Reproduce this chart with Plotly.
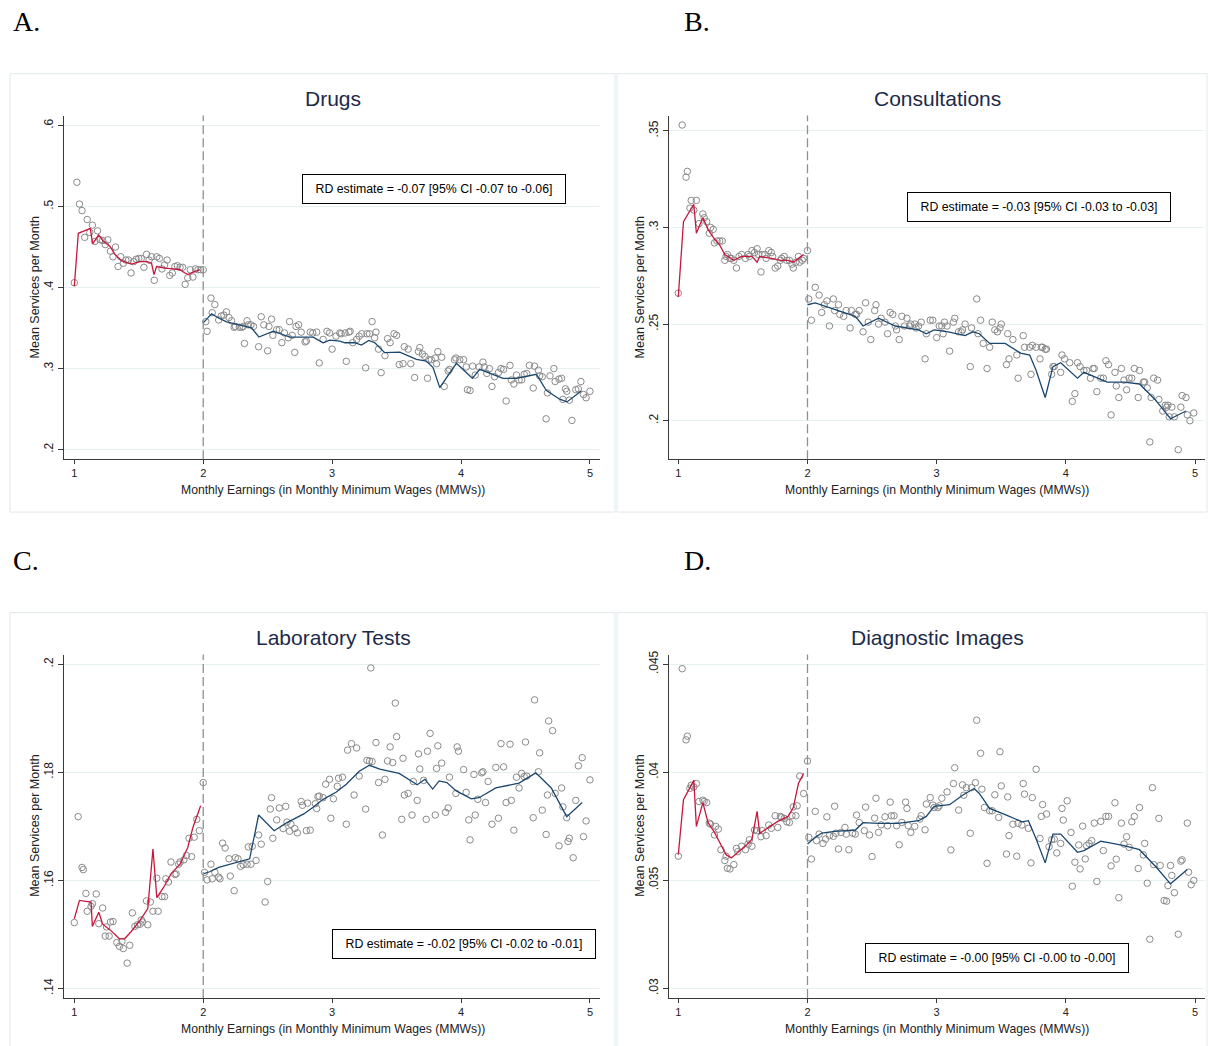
import plotly.graph_objects as go

W, H = 1209, 1046

# ----------------------------- DATA -----------------------------
TITLES = ["Drugs", "Consultations", "Laboratory Tests", "Diagnostic Images"]
LETTERS = ["A.", "B.", "C.", "D."]
RD_TEXT = [
    "RD estimate = -0.07 [95% CI -0.07 to -0.06]",
    "RD estimate = -0.03 [95% CI -0.03 to -0.03]",
    "RD estimate = -0.02 [95% CI -0.02 to -0.01]",
    "RD estimate = -0.00 [95% CI -0.00 to -0.00]",
]
X_TITLE = "Monthly Earnings (in Monthly Minimum Wages (MMWs))"
Y_TITLE = "Mean Services per Month"
CUTOFF = 2
X_TICKS = [1, 2, 3, 4, 5]
X_TICKTEXT = ["1", "2", "3", "4", "5"]
A_YTICKS = [0.2, 0.3, 0.4, 0.5, 0.6]
A_YTEXT = [".2", ".3", ".4", ".5", ".6"]
B_YTICKS = [0.2, 0.25, 0.3, 0.35]
B_YTEXT = [".2", ".25", ".3", ".35"]
C_YTICKS = [0.14, 0.16, 0.18, 0.2]
C_YTEXT = [".14", ".16", ".18", ".2"]
D_YTICKS = [0.03, 0.035, 0.04, 0.045]
D_YTEXT = [".03", ".035", ".04", ".045"]

# ---- Panel A: Drugs ----
A_L_X = [1.00, 1.02, 1.04, 1.06, 1.08, 1.10, 1.12, 1.14, 1.16, 1.18,
         1.20, 1.22, 1.24, 1.26, 1.28, 1.30, 1.32, 1.34, 1.36, 1.38,
         1.40, 1.42, 1.44, 1.46, 1.48, 1.50, 1.52, 1.54, 1.56, 1.58,
         1.60, 1.62, 1.64, 1.66, 1.68, 1.70, 1.72, 1.74, 1.76, 1.78,
         1.80, 1.82, 1.84, 1.86, 1.88, 1.90, 1.92, 1.94, 1.96, 1.98, 2.00]
A_L_Y = [.406, .530, .503, .495, .462, .484, .468, .477, .457, .470,
         .459, .458, .453, .459, .445, .438, .450, .426, .438, .430,
         .434, .434, .418, .432, .435, .436, .436, .425, .441, .434,
         .438, .409, .438, .436, .423, .428, .434, .415, .418, .426,
         .427, .425, .425, .404, .412, .422, .413, .423, .422, .422, .422]
A_R_X = [2.02, 2.03, 2.06, 2.07, 2.09, 2.12, 2.14, 2.16, 2.18, 2.20,
         2.22, 2.24, 2.25, 2.28, 2.30, 2.31, 2.32, 2.34, 2.35, 2.37,
         2.39, 2.43, 2.45, 2.47, 2.50, 2.51, 2.53, 2.54, 2.57, 2.59,
         2.61, 2.63, 2.66, 2.67, 2.69, 2.71, 2.72, 2.74, 2.76, 2.79,
         2.80, 2.83, 2.85, 2.88, 2.90, 2.93, 2.96, 2.98, 3.00, 3.03,
         3.06, 3.07, 3.10, 3.11, 3.13, 3.14, 3.16, 3.19, 3.21, 3.23,
         3.26, 3.27, 3.29, 3.31, 3.33, 3.34, 3.36, 3.38, 3.41, 3.43,
         3.45, 3.48, 3.50, 3.52, 3.55, 3.56, 3.59, 3.61, 3.64, 3.67,
         3.68, 3.70, 3.72, 3.74, 3.75, 3.77, 3.80, 3.81, 3.82, 3.85,
         3.87, 3.90, 3.91, 3.95, 3.96, 3.99, 4.02, 4.04, 4.05, 4.07,
         4.09, 4.11, 4.14, 4.17, 4.18, 4.20, 4.22, 4.24, 4.26, 4.29,
         4.31, 4.33, 4.35, 4.38, 4.39, 4.41, 4.43, 4.45, 4.47, 4.49,
         4.51, 4.53, 4.56, 4.57, 4.60, 4.61, 4.63, 4.66, 4.67, 4.69,
         4.72, 4.73, 4.76, 4.78, 4.79, 4.81, 4.82, 4.84, 4.86, 4.89,
         4.91, 4.93, 4.95, 4.97, 5.00]
A_R_Y = [.358, .346, .387, .369, .379, .360, .365, .366, .370, .363,
         .359, .351, .352, .351, .351, .352, .331, .359, .354, .354,
         .352, .327, .364, .354, .322, .352, .361, .341, .348, .348,
         .332, .344, .338, .358, .341, .320, .352, .354, .345, .333,
         .334, .345, .344, .345, .307, .336, .346, .344, .324, .340,
         .344, .343, .344, .309, .345, .346, .332, .336, .340, .343,
         .301, .343, .343, .358, .338, .345, .324, .295, .316, .337,
         .332, .343, .341, .305, .306, .327, .324, .306, .289, .321,
         .326, .318, .315, .288, .311, .311, .313, .306, .321, .314,
         .278, .297, .299, .311, .313, .311, .311, .302, .274, .273,
         .303, .292, .302, .308, .302, .294, .300, .278, .290, .295,
         .300, .299, .260, .304, .286, .281, .292, .286, .286, .293,
         .294, .304, .276, .303, .298, .291, .290, .238, .270, .291,
         .300, .284, .287, .288, .262, .275, .272, .261, .236, .274,
         .275, .284, .268, .264, .272]
A_FL_X = [1.00, 1.031, 1.124, 1.142, 1.189, 1.225, 1.276, 1.315, 1.367, 1.444,
          1.509, 1.566, 1.599, 1.618, 1.638, 1.703, 1.767, 1.819, 1.858, 1.884,
          1.935, 1.974]
A_FL_Y = [.4016, .467, .473, .454, .465, .457, .451, .441, .433, .429,
          .432, .432, .430, .416, .426, .424, .423, .422, .418, .416,
          .420, .422]
A_FR_X = [2.00, 2.065, 2.116, 2.181, 2.375, 2.432, 2.543, 2.672, 2.853, 2.930,
          2.982, 3.059, 3.098, 3.176, 3.227, 3.284, 3.331, 3.408, 3.525, 3.654,
          3.731, 3.783, 3.835, 3.964, 4.088, 4.145, 4.326, 4.429, 4.584, 4.661,
          4.765, 4.822, 4.933]
A_FR_Y = [.3565, .3676, .3627, .3577, .3503, .3389, .3462, .3389, .3389, .3319,
          .3352, .3339, .3319, .3319, .3290, .3348, .3319, .3196, .3204, .3114,
          .3093, .3012, .2765, .3065, .2880, .2991, .2880, .2880, .2930, .2733,
          .2622, .2589, .2724]

# ---- Panel B: Consultations ----
B_L_X = [1.00, 1.03, 1.06, 1.07, 1.09, 1.10, 1.12, 1.14, 1.16, 1.19,
         1.20, 1.22, 1.24, 1.25, 1.27, 1.28, 1.30, 1.32, 1.34, 1.36,
         1.37, 1.38, 1.40, 1.41, 1.43, 1.45, 1.47, 1.49, 1.52, 1.54,
         1.55, 1.57, 1.59, 1.61, 1.62, 1.64, 1.65, 1.67, 1.68, 1.70,
         1.72, 1.73, 1.75, 1.77, 1.79, 1.80, 1.82, 1.84, 1.86, 1.88,
         1.89, 1.91, 1.93, 1.94, 1.96, 1.97, 2.00]
B_L_Y = [.266, .353, .326, .329, .310, .314, .309, .314, .302, .307,
         .305, .303, .297, .300, .299, .292, .293, .293, .293, .283,
         .285, .286, .284, .284, .283, .279, .285, .286, .284, .286,
         .285, .288, .287, .289, .286, .277, .286, .286, .284, .288,
         .287, .285, .279, .280, .283, .284, .285, .283, .283, .281,
         .279, .282, .285, .282, .283, .284, .288]
B_R_X = [2.01, 2.03, 2.06, 2.09, 2.11, 2.13, 2.15, 2.17, 2.20, 2.21,
         2.24, 2.25, 2.28, 2.30, 2.33, 2.34, 2.37, 2.38, 2.40, 2.43,
         2.45, 2.47, 2.49, 2.52, 2.53, 2.55, 2.57, 2.60, 2.62, 2.64,
         2.66, 2.68, 2.69, 2.71, 2.73, 2.75, 2.77, 2.79, 2.80, 2.83,
         2.84, 2.86, 2.88, 2.91, 2.92, 2.95, 2.97, 3.00, 3.02, 3.04,
         3.05, 3.06, 3.08, 3.10, 3.13, 3.14, 3.17, 3.19, 3.20, 3.22,
         3.26, 3.27, 3.31, 3.32, 3.34, 3.36, 3.39, 3.41, 3.43, 3.45,
         3.47, 3.49, 3.50, 3.54, 3.55, 3.56, 3.59, 3.62, 3.63, 3.67,
         3.68, 3.72, 3.73, 3.74, 3.77, 3.80, 3.81, 3.82, 3.84, 3.85,
         3.89, 3.90, 3.91, 3.96, 3.97, 3.99, 4.03, 4.05, 4.07, 4.09,
         4.11, 4.14, 4.16, 4.19, 4.21, 4.22, 4.24, 4.27, 4.29, 4.31,
         4.33, 4.35, 4.38, 4.39, 4.41, 4.43, 4.45, 4.47, 4.49, 4.51,
         4.53, 4.56, 4.57, 4.60, 4.61, 4.63, 4.65, 4.66, 4.68, 4.71,
         4.72, 4.75, 4.77, 4.78, 4.79, 4.80, 4.82, 4.84, 4.87, 4.89,
         4.90, 4.93, 4.94, 4.96, 4.99]
B_R_Y = [.263, .252, .269, .265, .256, .260, .262, .249, .263, .257,
         .260, .255, .254, .257, .248, .257, .255, .255, .257, .246,
         .261, .251, .242, .257, .260, .250, .253, .251, .245, .256,
         .255, .249, .247, .242, .254, .249, .253, .249, .250, .250,
         .248, .249, .251, .232, .245, .252, .252, .243, .249, .249,
         .245, .251, .249, .236, .251, .253, .246, .246, .247, .250,
         .228, .248, .263, .245, .252, .240, .227, .238, .251, .247,
         .246, .248, .250, .229, .245, .232, .242, .234, .222, .244,
         .238, .238, .224, .239, .238, .232, .238, .238, .237, .237,
         .224, .228, .228, .225, .234, .232, .230, .210, .214, .230,
         .228, .226, .226, .222, .227, .227, .215, .222, .222, .231,
         .229, .203, .225, .218, .212, .227, .221, .216, .222, .222,
         .227, .212, .226, .220, .220, .217, .189, .212, .222, .221,
         .211, .205, .208, .207, .208, .202, .207, .202, .185, .207,
         .213, .212, .203, .200, .204]
B_FL_X = [1.00, 1.04, 1.12, 1.14, 1.19, 1.23, 1.28, 1.32, 1.36, 1.43,
          1.49, 1.57, 1.61, 1.63, 1.72, 1.79, 1.85, 1.89, 1.93, 1.97]
B_FL_Y = [.264, .303, .312, .297, .305, .299, .294, .291, .286, .283,
          .285, .285, .282, .285, .284, .283, .283, .282, .284, .286]
B_FR_X = [2.00, 2.06, 2.37, 2.43, 2.55, 2.68, 2.86, 2.92, 2.98, 3.09,
          3.22, 3.28, 3.33, 3.41, 3.53, 3.65, 3.72, 3.77, 3.84, 3.90,
          3.96, 4.09, 4.14, 4.32, 4.45, 4.57, 4.69, 4.81, 4.93]
B_FR_Y = [.260, .261, .254, .249, .253, .249, .247, .245, .247, .246,
          .244, .246, .245, .240, .240, .235, .234, .226, .212, .228,
          .230, .222, .225, .220, .220, .219, .211, .201, .205]

# ---- Panel C: Laboratory Tests ----
C_L_X = [1.00, 1.03, 1.06, 1.07, 1.09, 1.10, 1.13, 1.14, 1.17, 1.19,
         1.22, 1.24, 1.25, 1.27, 1.28, 1.30, 1.33, 1.35, 1.37, 1.38,
         1.41, 1.43, 1.45, 1.47, 1.49, 1.51, 1.52, 1.53, 1.56, 1.57,
         1.59, 1.61, 1.64, 1.65, 1.68, 1.70, 1.71, 1.73, 1.75, 1.78,
         1.79, 1.81, 1.82, 1.85, 1.87, 1.89, 1.91, 1.93, 1.95, 1.97, 2.00]
C_L_Y = [.1522, .1718, .1624, .1620, .1576, .1543, .1552, .1557, .1575, .1520,
         .1549, .1497, .1514, .1497, .1523, .1524, .1485, .1478, .1487, .1474,
         .1447, .1480, .1540, .1515, .1518, .1519, .1527, .1523, .1562, .1518,
         .1560, .1543, .1604, .1543, .1570, .1570, .1603, .1597, .1634, .1611,
         .1612, .1630, .1634, .1638, .1646, .1678, .1644, .1680, .1713, .1692, .1781]
C_R_X = [2.01, 2.03, 2.06, 2.07, 2.09, 2.12, 2.13, 2.15, 2.17, 2.20,
         2.21, 2.24, 2.25, 2.27, 2.29, 2.31, 2.34, 2.35, 2.37, 2.38,
         2.41, 2.43, 2.45, 2.48, 2.50, 2.52, 2.53, 2.54, 2.57, 2.59,
         2.62, 2.64, 2.65, 2.67, 2.68, 2.71, 2.73, 2.76, 2.77, 2.80,
         2.81, 2.83, 2.87, 2.88, 2.89, 2.90, 2.93, 2.95, 2.98, 2.99,
         3.01, 3.04, 3.05, 3.08, 3.11, 3.12, 3.15, 3.17, 3.19, 3.21,
         3.26, 3.27, 3.29, 3.30, 3.31, 3.34, 3.36, 3.39, 3.41, 3.43,
         3.45, 3.47, 3.49, 3.50, 3.54, 3.55, 3.56, 3.59, 3.62, 3.63,
         3.66, 3.67, 3.68, 3.71, 3.73, 3.74, 3.76, 3.80, 3.81, 3.82,
         3.85, 3.88, 3.90, 3.91, 3.96, 3.97, 3.98, 4.02, 4.04, 4.06,
         4.07, 4.10, 4.11, 4.13, 4.16, 4.17, 4.19, 4.21, 4.24, 4.27,
         4.29, 4.31, 4.33, 4.35, 4.38, 4.39, 4.41, 4.43, 4.45, 4.47,
         4.49, 4.50, 4.51, 4.56, 4.57, 4.60, 4.61, 4.63, 4.66, 4.67,
         4.68, 4.71, 4.73, 4.76, 4.78, 4.79, 4.82, 4.83, 4.84, 4.87,
         4.89, 4.91, 4.94, 4.95, 4.97, 5.00]
C_R_Y = [.1615, .1601, .1630, .1603, .1615, .1606, .1603, .1669, .1660, .1640,
         .1608, .1581, .1642, .1640, .1626, .1629, .1630, .1662, .1630, .1663,
         .1637, .1684, .1667, .1560, .1598, .1732, .1753, .1678, .1712, .1734,
         .1696, .1737, .1708, .1691, .1704, .1696, .1688, .1746, .1739, .1692,
         .1743, .1693, .1742, .1733, .1755, .1756, .1753, .1778, .1787, .1715,
         .1751, .1774, .1789, .1791, .1704, .1841, .1853, .1758, .1845, .1793,
         .1732, .1822, .1821, .1993, .1820, .1855, .1781, .1684, .1787, .1821,
         .1847, .1818, .1928, .1866, .1713, .1826, .1758, .1761, .1721, .1783,
         .1748, .1834, .1806, .1785, .1713, .1839, .1872, .1721, .1807, .1849,
         .1817, .1726, .1734, .1791, .1761, .1847, .1839, .1805, .1763, .1712,
         .1675, .1796, .1721, .1750, .1799, .1801, .1744, .1783, .1704, .1809,
         .1715, .1853, .1810, .1744, .1852, .1748, .1693, .1791, .1771, .1798,
         .1792, .1856, .1793, .1716, .1934, .1801, .1836, .1730, .1685, .1758,
         .1895, .1877, .1761, .1664, .1771, .1736, .1716, .1672, .1678, .1642,
         .1748, .1812, .1827, .1681, .1710, .1786]
C_FL_X = [1.00, 1.04, 1.13, 1.14, 1.19, 1.22, 1.28, 1.35, 1.39, 1.44,
          1.51, 1.57, 1.61, 1.64, 1.69, 1.75, 1.82, 1.88, 1.92, 1.98]
C_FL_Y = [.1529, .1563, .1560, .1515, .1541, .1519, .1508, .1492, .1492, .1505,
          .1526, .1548, .1658, .1568, .1586, .1612, .1630, .1661, .1698, .1738]
C_FR_X = [2.00, 2.05, 2.12, 2.21, 2.36, 2.43, 2.55, 2.65, 2.78, 2.85,
          2.93, 3.03, 3.11, 3.21, 3.29, 3.37, 3.52, 3.66, 3.72, 3.78,
          3.83, 3.89, 3.96, 4.08, 4.14, 4.27, 4.33, 4.45, 4.58, 4.70,
          4.82, 4.94]
C_FR_Y = [.1612, .1616, .1624, .1630, .1640, .1721, .1692, .1707, .1723, .1735,
          .1750, .1763, .1778, .1802, .1813, .1806, .1798, .1777, .1787, .1769,
          .1784, .1781, .1766, .1751, .1753, .1771, .1774, .1780, .1799, .1771,
          .1718, .1744]

# ---- Panel D: Diagnostic Images ----
D_L_X = [1.00, 1.03, 1.06, 1.07, 1.09, 1.10, 1.12, 1.14, 1.16, 1.19,
         1.20, 1.22, 1.24, 1.25, 1.28, 1.29, 1.31, 1.33, 1.36, 1.37,
         1.38, 1.40, 1.43, 1.45, 1.46, 1.49, 1.52, 1.54, 1.55, 1.57,
         1.59, 1.61, 1.64, 1.65, 1.68, 1.70, 1.72, 1.75, 1.77, 1.79,
         1.80, 1.82, 1.84, 1.86, 1.88, 1.89, 1.91, 1.92, 1.94, 1.97, 2.00]
D_L_Y = [.03612, .04479, .04150, .04167, .03926, .03940, .03932, .03948, .03865, .03871,
         .03865, .03860, .03765, .03760, .03710, .03750, .03737, .03642, .03592, .03612,
         .03556, .03553, .03573, .03648, .03633, .03658, .03642, .03668, .03688, .03658,
         .03733, .03730, .03702, .03730, .03707, .03756, .03741, .03799, .03745, .03796,
         .03791, .03787, .03771, .03768, .03799, .03840, .03799, .03845, .03983, .03902, .04052]
D_R_X = [2.01, 2.03, 2.06, 2.07, 2.09, 2.12, 2.14, 2.15, 2.17, 2.20,
         2.21, 2.22, 2.24, 2.26, 2.29, 2.30, 2.32, 2.35, 2.37, 2.38,
         2.40, 2.44, 2.45, 2.48, 2.50, 2.52, 2.53, 2.55, 2.57, 2.60,
         2.62, 2.64, 2.65, 2.67, 2.69, 2.71, 2.73, 2.76, 2.77, 2.78,
         2.80, 2.83, 2.87, 2.88, 2.91, 2.92, 2.95, 2.97,
         2.98, 3.01, 3.02, 3.04, 3.08, 3.11, 3.13, 3.14, 3.17, 3.20,
         3.21, 3.23, 3.26, 3.27, 3.30, 3.31, 3.34, 3.35, 3.37, 3.39,
         3.41, 3.43, 3.45, 3.48, 3.49, 3.50, 3.54, 3.55, 3.56, 3.59,
         3.62, 3.63, 3.66, 3.67, 3.68, 3.71, 3.73, 3.74, 3.77, 3.80,
         3.81, 3.82, 3.85, 3.87, 3.89, 3.91, 3.93, 3.96, 3.97, 3.98,
         4.01, 4.04, 4.05, 4.07, 4.10, 4.11, 4.13, 4.15, 4.16, 4.18,
         4.20, 4.22, 4.24, 4.27, 4.29, 4.31, 4.33, 4.35, 4.38, 4.39,
         4.41, 4.43, 4.45, 4.47, 4.49, 4.51, 4.53, 4.56, 4.57, 4.60,
         4.61, 4.63, 4.65, 4.67, 4.68, 4.72, 4.73, 4.76, 4.78, 4.79,
         4.81, 4.82, 4.84, 4.87, 4.89, 4.90, 4.94, 4.95, 4.97, 4.99]
D_R_Y = [.03699, .03599, .03819, .03684, .03714, .03671, .03691, .03794, .03707, .03704,
         .03843, .03718, .03645, .03722, .03745, .03714, .03642, .03718, .03714, .03802,
         .03768, .03730, .03839, .03710, .03610, .03788, .03880, .03722, .03757, .03794,
         .03753, .03862, .03799, .03799, .03753, .03665, .03768, .03862, .03833, .03753,
         .03722, .03750, .03784, .03799, .03734, .03853, .03883, .03848,
         .03837, .03837, .03845, .03880, .03909, .03641, .03948, .04021, .03825, .03942,
         .03894, .03929, .03718, .03929, .03952, .04241, .04088, .03922, .03837, .03579,
         .03822, .03822, .03896, .03791, .04095, .03937, .03622, .03886, .03707, .03760,
         .03612, .03764, .03756, .03948, .03899, .03741, .03581, .03883, .04014, .03694,
         .03796, .03851, .03807, .03656, .03688, .03691, .03627, .03671, .03833, .03779,
         .03868, .03722, .03473, .03584, .03664, .03553, .03751, .03599, .03661, .03671,
         .03684, .03765, .03495, .03773, .03638, .03796, .03796, .03567, .03859, .03598,
         .03420, .03765, .03668, .03702, .03653, .03771, .03796, .03555, .03837, .03618,
         .03671, .03487, .03228, .03929, .03573, .03787, .03569, .03407, .03404, .03476,
         .03569, .03523, .03443, .03251, .03589, .03595, .03765, .03538, .03480, .03500]
D_FL_X = [1.00, 1.04, 1.09, 1.12, 1.14, 1.19, 1.23, 1.28, 1.34, 1.37,
          1.41, 1.46, 1.53, 1.57, 1.61, 1.63, 1.70, 1.77, 1.85, 1.89,
          1.93, 1.97]
D_FL_Y = [.03619, .03873, .03929, .03963, .03750, .03860, .03768, .03722, .03653, .03619,
          .03604, .03630, .03665, .03691, .03819, .03718, .03745, .03773, .03796, .03837,
          .03948, .03995]
D_FR_X = [2.00, 2.06, 2.11, 2.21, 2.37, 2.43, 2.55, 2.70, 2.86, 2.92,
          2.98, 3.10, 3.20, 3.29, 3.33, 3.41, 3.54, 3.66, 3.71, 3.77,
          3.84, 3.90, 3.96, 4.09, 4.14, 4.27, 4.32, 4.45, 4.57, 4.70,
          4.81, 4.94]
D_FR_Y = [.03668, .03699, .03719, .03727, .03733, .03767, .03764, .03764, .03776, .03796,
          .03842, .03850, .03894, .03925, .03902, .03833, .03802, .03771, .03776, .03691,
          .03581, .03714, .03714, .03630, .03638, .03681, .03676, .03661, .03642, .03561,
          .03484, .03550]

# ----------------------------- STYLE / LAYOUT -----------------------------
FONT = "Liberation Sans, Arial, sans-serif"
SERIF = "Liberation Serif, Times New Roman, serif"
GRID = "#e6eff1"
AXIS = "#3a3a3a"
MARK = "#8a8a8a"
RED = "#c8173d"
NAVY = "#1a476f"
TITLE_C = "#1c2a4a"


def PX(x):
    return x / W


def PY(y):
    return 1 - y / H


panels = [
    dict(data=(A_L_X, A_L_Y, A_R_X, A_R_Y, A_FL_X, A_FL_Y, A_FR_X, A_FR_Y),
         ticks=(A_YTICKS, A_YTEXT), px=(64, 600), py=(112, 457),
         xr=(0.920, 5.078), yr=(0.1881, 0.6123), ox=(10, 615), oy=(70, 510),
         title=(333, 95), letter=(11, 18), ytitle=(35, 284.5), xtitle=(333, 487.5),
         box=(433.5, 185.5)),
    dict(data=(B_L_X, B_L_Y, B_R_X, B_R_Y, B_FL_X, B_FL_Y, B_FR_X, B_FR_Y),
         ticks=(B_YTICKS, B_YTEXT), px=(669, 1205), py=(112, 457),
         xr=(0.928, 5.077), yr=(0.18005, 0.35789), ox=(617, 1207), oy=(70, 510),
         title=(937, 95), letter=(682, 18), ytitle=(640, 284.5), xtitle=(937, 487.5),
         box=(1039, 203.5)),
    dict(data=(C_L_X, C_L_Y, C_R_X, C_R_Y, C_FL_X, C_FL_Y, C_FR_X, C_FR_Y),
         ticks=(C_YTICKS, C_YTEXT), px=(64, 600), py=(653, 997.7),
         xr=(0.920, 5.078), yr=(0.13827, 0.20179), ox=(10, 615), oy=(611, 1049),
         title=(333, 636), letter=(11, 559), ytitle=(35, 825), xtitle=(333, 1028.5),
         box=(463.5, 944)),
    dict(data=(D_L_X, D_L_Y, D_R_X, D_R_Y, D_FL_X, D_FL_Y, D_FR_X, D_FR_Y),
         ticks=(D_YTICKS, D_YTEXT), px=(669, 1205), py=(653, 997.7),
         xr=(0.928, 5.077), yr=(0.029567, 0.045447), ox=(617, 1207), oy=(611, 1049),
         title=(937, 636), letter=(682, 559), ytitle=(640, 825), xtitle=(937, 1028.5),
         box=(997, 958)),
]

fig = go.Figure()
shapes = []
annotations = []
layout = {}

for i, p in enumerate(panels):
    n = i + 1
    sx = "x" if n == 1 else f"x{n}"
    sy = "y" if n == 1 else f"y{n}"
    lx, ly, rx, ry, flx, fly, frx, fry = p["data"]
    for xs, ys in ((lx, ly), (rx, ry)):
        fig.add_trace(go.Scatter(
            x=xs, y=ys, mode="markers", xaxis=sx, yaxis=sy,
            marker=dict(symbol="circle-open", size=6.5, color=MARK,
                        line=dict(width=1, color=MARK)),
            hoverinfo="skip", showlegend=False))
    fig.add_trace(go.Scatter(x=flx, y=fly, mode="lines", xaxis=sx, yaxis=sy,
                             line=dict(color=RED, width=1.3),
                             hoverinfo="skip", showlegend=False))
    fig.add_trace(go.Scatter(x=frx, y=fry, mode="lines", xaxis=sx, yaxis=sy,
                             line=dict(color=NAVY, width=1.3),
                             hoverinfo="skip", showlegend=False))

    xkey = "xaxis" if n == 1 else f"xaxis{n}"
    ykey = "yaxis" if n == 1 else f"yaxis{n}"
    layout[xkey] = dict(
        domain=[PX(p["px"][0]), PX(p["px"][1])], range=list(p["xr"]),
        anchor=sy, tickvals=X_TICKS, ticktext=X_TICKTEXT,
        ticks="outside", ticklen=4, tickcolor=AXIS, tickwidth=1,
        showline=True, linecolor=AXIS, linewidth=1,
        showgrid=False, zeroline=False,
        tickfont=dict(family=FONT, size=11, color="#222"), fixedrange=True)
    layout[ykey] = dict(
        domain=[PY(p["py"][1]), PY(p["py"][0])], range=list(p["yr"]),
        anchor=sx, tickvals=p["ticks"][0], ticktext=p["ticks"][1],
        tickangle=-90, ticks="outside", ticklen=5, tickcolor=AXIS, tickwidth=1,
        showline=True, linecolor=AXIS, linewidth=1,
        showgrid=True, gridcolor=GRID, gridwidth=1, zeroline=False,
        tickfont=dict(family=FONT, size=12, color="#222"), fixedrange=True)

    # cutoff line
    shapes.append(dict(type="line", xref=sx, yref=f"{sy} domain",
                       x0=CUTOFF, x1=CUTOFF, y0=0, y1=1,
                       line=dict(color="#8f8f8f", width=1.3, dash="9px,4px")))
    # outer panel frame
    shapes.append(dict(type="rect", xref="paper", yref="paper",
                       x0=PX(p["ox"][0]), x1=PX(p["ox"][1]),
                       y0=PY(p["oy"][1]), y1=PY(p["oy"][0]),
                       line=dict(color="#dfe9ec", width=1), layer="below"))

    annotations.append(dict(text=LETTERS[i], xref="paper", yref="paper",
                            x=PX(p["letter"][0]), y=PY(p["letter"][1]),
                            xanchor="left", yanchor="middle", showarrow=False,
                            font=dict(family=SERIF, size=28, color="black")))
    annotations.append(dict(text=TITLES[i], xref="paper", yref="paper",
                            x=PX(p["title"][0]), y=PY(p["title"][1]),
                            xanchor="center", yanchor="middle", showarrow=False,
                            font=dict(family=FONT, size=21, color=TITLE_C)))
    annotations.append(dict(text=X_TITLE, xref="paper", yref="paper",
                            x=PX(p["xtitle"][0]), y=PY(p["xtitle"][1]),
                            xanchor="center", yanchor="middle", showarrow=False,
                            font=dict(family=FONT, size=12.2, color="#222")))
    annotations.append(dict(text=Y_TITLE, xref="paper", yref="paper",
                            x=PX(p["ytitle"][0]), y=PY(p["ytitle"][1]),
                            xanchor="center", yanchor="middle", showarrow=False,
                            textangle=-90,
                            font=dict(family=FONT, size=12.5, color="#222")))
    annotations.append(dict(text=RD_TEXT[i], xref="paper", yref="paper",
                            x=PX(p["box"][0]), y=PY(p["box"][1]),
                            xanchor="center", yanchor="middle", showarrow=False,
                            width=262, height=28, align="center",
                            bgcolor="white", bordercolor="black", borderwidth=1,
                            borderpad=0,
                            font=dict(family=FONT, size=12.3, color="black")))

fig.update_layout(
    width=W, height=H, margin=dict(l=0, r=0, t=0, b=0),
    paper_bgcolor="white", plot_bgcolor="white",
    showlegend=False, hovermode=False,
    shapes=shapes, annotations=annotations, **layout)

fig.write_html("out.html", include_plotlyjs=True, full_html=True,
               config={"displayModeBar": False, "staticPlot": True},
               post_script="document.body.style.margin='0';document.body.style.padding='0';")
